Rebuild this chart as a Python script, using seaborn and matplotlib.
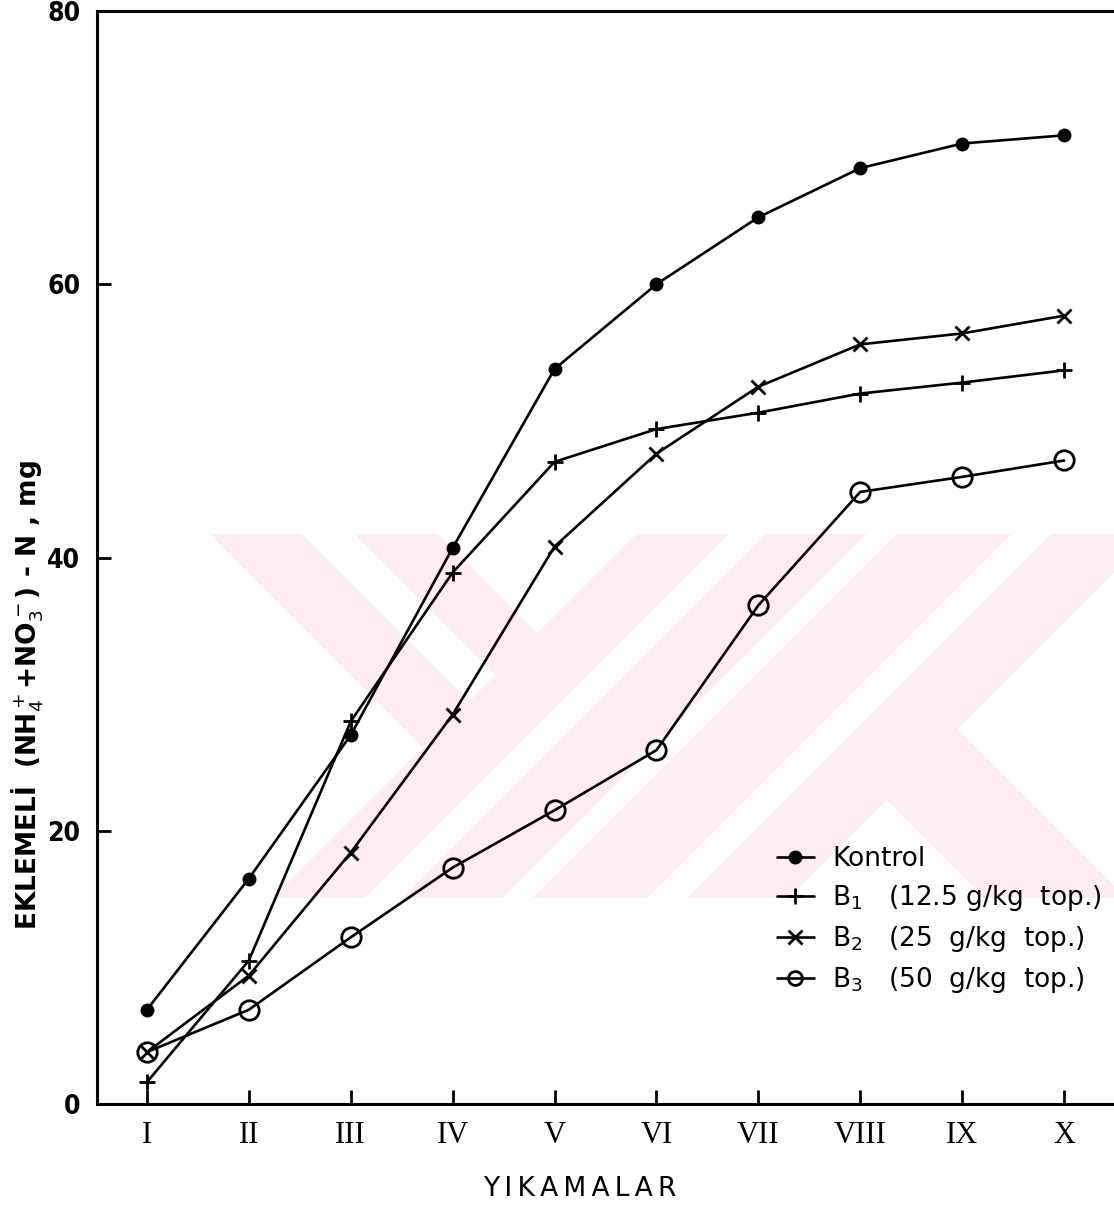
import numpy as np
import matplotlib
matplotlib.use('Agg')
import matplotlib.pyplot as plt
import seaborn as sns

# data
washes = ['I', 'II', 'III', 'IV', 'V', 'VI', 'VII', 'VIII', 'IX', 'X']
kontrol = [6.9, 16.5, 27.0, 40.7, 53.8, 60.0, 64.9, 68.5, 70.3, 70.9]
b1 = [1.6, 10.5, 28.0, 38.9, 47.0, 49.4, 50.6, 52.0, 52.8, 53.7]
b2 = [3.8, 9.4, 18.4, 28.5, 40.8, 47.6, 52.5, 55.6, 56.4, 57.7]
b3 = [3.8, 6.9, 12.2, 17.3, 21.5, 25.9, 36.5, 44.8, 45.9, 47.1]
series_labels = ['Kontrol',
                 r'B$_1$   (12.5 g/kg  top.)',
                 r'B$_2$   (25  g/kg  top.)',
                 r'B$_3$   (50  g/kg  top.)']
y_ticks = [0, 20, 40, 60, 80]

sns.set_style('ticks')
plt.rcParams['font.family'] = ['DejaVu Sans']
plt.rcParams['mathtext.fontset'] = 'dejavusans'
plt.rcParams['text.color'] = 'black'
plt.rcParams['axes.labelcolor'] = 'black'
plt.rcParams['xtick.color'] = 'black'
plt.rcParams['ytick.color'] = 'black'

W, H = 1114, 1214
fig = plt.figure(figsize=(W / 100, H / 100), dpi=100)

# faint pink watermark of the scan (background decoration)
yy, xx = np.mgrid[0:H, 0:W]
s = xx + yy
d = xx - yy
pink = (s < 1170) & (((d >= -324) & (d < -232)) | ((d >= -179) & (d < -96)))
pink |= ((s >= 1170) & (s < 1262)) | ((s >= 1300) & (s < 1400)) \
    | ((s >= 1430) & (s < 1545)) | ((s >= 1585) & (s < 1686))
pink |= (s >= 1686) & (d >= 87) & (d < 229)
pink &= (xx >= 210) & (yy >= 534) & (yy <= 897)
wm = np.zeros((H, W, 4))
wm[..., 0] = 253 / 255
wm[..., 1] = 236 / 255
wm[..., 2] = 240 / 255
wm[..., 3] = pink.astype(float)
bg = fig.add_axes([0, 0, 1, 1])
bg.imshow(wm, aspect='auto', interpolation='nearest')
bg.axis('off')

ax = fig.add_axes([97 / W, 1 - 1104 / H, 1 - 97 / W, (1104 - 11) / H])
ax.set_facecolor('none')

styles = [dict(marker='o', markersize=9, markerfacecolor='black', markeredgecolor='black', markeredgewidth=1),
          dict(marker='+', markersize=12, markeredgecolor='black', markeredgewidth=2),
          dict(marker='x', markersize=10, markeredgecolor='black', markeredgewidth=2),
          dict(marker='o', markersize=14, markerfacecolor='none', markeredgecolor='black', markeredgewidth=2)]

for vals, lab, st in zip([kontrol, b1, b2, b3], series_labels, styles):
    sns.lineplot(x=washes, y=vals, ax=ax, color='black', linewidth=1.9,
                 label=lab, sort=False, **st)

ax.set_xlim(-0.49, 9.49)
ax.set_ylim(0, 80)
ax.set_yticks(y_ticks)
ax.set_xticks(range(len(washes)))
ax.set_xticklabels(washes, family='Liberation Serif', fontsize=22)
for t in ax.get_yticklabels():
    t.set_fontsize(19)
    t.set_fontweight('bold')
    t.set_fontstretch('condensed')

for side in ['left', 'bottom', 'top']:
    ax.spines[side].set_linewidth(2.2)
    ax.spines[side].set_color('black')
ax.spines['right'].set_visible(False)
ax.tick_params(axis='both', direction='in', length=10, width=2, color='black')
ax.tick_params(axis='x', pad=12)
ax.tick_params(axis='y', pad=12)

ax.set_xlabel('Y\u2009I\u2009K\u2009A\u2009M\u2009A\u2009L\u2009A\u2009R', fontsize=19)
ax.xaxis.set_label_coords(0.475, -0.066)
ax.set_ylabel(r'EKLEMELİ  (NH$_4^+$+NO$_3^-$) - N , mg', fontsize=19, fontweight='bold')
ax.yaxis.set_label_coords(-0.050, 0.374)

leg = ax.legend(loc='upper left', bbox_to_anchor=(777 / W, 1 - 846 / H),
                bbox_transform=fig.transFigure, frameon=False, fontsize=19,
                handlelength=1.4, handletextpad=0.7, labelspacing=0.42,
                borderpad=0, borderaxespad=0)
leg.legend_handles[3].set_markersize(10)

fig.savefig('out.png', dpi=100)
